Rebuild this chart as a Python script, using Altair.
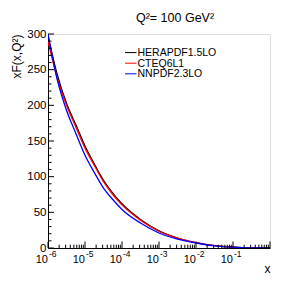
import altair as alt
import pandas as pd

series = ["HERAPDF1.5LO", "CTEQ6L1", "NNPDF2.3LO"]
colors = ["#000000", "#ff0000", "#0000ff"]
log_x = [-6, -5.75, -5.5, -5.25, -5, -4.75, -4.5, -4.25, -4, -3.5, -3, -2.5, -2, -1.5, -1, -0.5, 0]
hera = [297, 243, 203, 173, 143, 118, 95, 77, 62, 40, 24, 14, 7.5, 3.3, 1.3, 0.3, 0]
cteq = [290, 238, 200, 170, 140, 116, 93, 75, 60.5, 39, 23.5, 14, 7.5, 3.3, 1.3, 0.3, 0]
nnpdf = [300, 236, 193, 161, 130, 106, 84, 68, 54, 35, 21, 12.5, 7, 3, 1.1, 0.2, 0]

y_major = [0, 50, 100, 150, 200, 250, 300]
y_minor = [10, 20, 30, 40, 60, 70, 80, 90, 110, 120, 130, 140, 160, 170, 180, 190,
           210, 220, 230, 240, 260, 270, 280, 290]
x_decade_exp = [-6, -5, -4, -3, -2, -1, 0]
x_minor_mult = [2, 3, 4, 5, 6, 7, 8, 9]
x_label_exp = ["-6", "-5", "-4", "-3", "-2", "-1"]

FONT = "Liberation Sans"
W, H = 222, 214

rows = []
for name, vals in zip(series, [hera, cteq, nnpdf]):
    for i, (lx, v) in enumerate(zip(log_x, vals)):
        rows.append({"series": name, "x": 10 ** lx, "y": v, "i": i})
df = pd.DataFrame(rows)

xs = alt.Scale(type="log", domain=[1e-6, 1], nice=False)
ys = alt.Scale(domain=[0, 300], nice=False, zero=False)
cs = alt.Scale(domain=series, range=colors)

x_axis = alt.Axis(labels=False, ticks=False, grid=False, domain=True,
                  domainColor="black", title="x", titleFont=FONT,
                  titleFontSize=12, titleFontWeight="normal",
                  titleX=219, titleY=20, titleAlign="center", titleBaseline="middle")
y_axis = alt.Axis(values=y_major, labelOverlap=False, ticks=False,
                  grid=False, domain=True, domainColor="black", labelFont=FONT,
                  labelFontSize=11.5, labelColor="black", labelPadding=2,
                  title="xF(x,Q²)", titleFont=FONT, titleFontSize=12,
                  titleFontWeight="normal", titleAngle=270,
                  titleAlign="right", titleBaseline="middle", titleX=-32, titleY=0)

lines = alt.Chart(df).mark_line(strokeWidth=1.3, interpolate="monotone", clip=True).encode(
    x=alt.X("x:Q", scale=xs, axis=x_axis),
    y=alt.Y("y:Q", scale=ys, axis=y_axis),
    color=alt.Color("series:N", scale=cs, legend=None),
    order="i:Q",
)

ytick_major = alt.Chart(pd.DataFrame({"v": y_major})).mark_rule(color="black", strokeWidth=1).encode(
    y=alt.Y("v:Q", scale=ys, axis=y_axis), x=alt.value(0), x2=alt.value(6))
ytick_minor = alt.Chart(pd.DataFrame({"v": y_minor})).mark_rule(color="black", strokeWidth=1).encode(
    y=alt.Y("v:Q", scale=ys, axis=y_axis), x=alt.value(0), x2=alt.value(3.5))

xmaj = pd.DataFrame({"v": [10.0 ** e for e in x_decade_exp]})
xmin = pd.DataFrame({"v": [m * 10.0 ** e for e in x_decade_exp[:-1] for m in x_minor_mult]})
xtick_major = alt.Chart(xmaj).mark_rule(color="black", strokeWidth=1).encode(
    x=alt.X("v:Q", scale=xs, axis=x_axis), y=alt.value(H), y2=alt.value(H - 6.5))
xtick_minor = alt.Chart(xmin).mark_rule(color="black", strokeWidth=1).encode(
    x=alt.X("v:Q", scale=xs, axis=x_axis), y=alt.value(H), y2=alt.value(H - 3.3))

lab = pd.DataFrame({"v": [10.0 ** int(e) for e in x_label_exp], "e": x_label_exp})
lab_base = alt.Chart(lab).mark_text(font=FONT, fontSize=11, align="right", baseline="middle",
                                    color="black").encode(
    x=alt.X("v:Q", scale=xs, axis=x_axis), y=alt.value(H + 12), text=alt.value("10"))
lab_exp = alt.Chart(lab).mark_text(font=FONT, fontSize=8.5, align="left", baseline="middle",
                                   dx=1, color="black").encode(
    x=alt.X("v:Q", scale=xs, axis=x_axis), y=alt.value(H + 6), text="e:N")

leg = pd.DataFrame({"series": series, "row": [0, 1, 2]})
leg_line = alt.Chart(leg).mark_rule(strokeWidth=1).transform_calculate(
    ly="18.6 + 10.6 * datum.row").encode(
    y=alt.Y("ly:Q", scale=None), x=alt.value(77), x2=alt.value(88.5),
    color=alt.Color("series:N", scale=cs, legend=None))
leg_text = alt.Chart(leg).mark_text(font=FONT, fontSize=10.5, align="left", baseline="middle",
                                    color="black").transform_calculate(
    ly="19.1 + 10.6 * datum.row").encode(
    y=alt.Y("ly:Q", scale=None), x=alt.value(89.5), text="series:N")

chart = alt.layer(
    lines, ytick_minor, ytick_major, xtick_minor, xtick_major, lab_base, lab_exp, leg_line, leg_text
).resolve_scale(color="shared").properties(
    width=W, height=H,
    title=alt.TitleParams(text="Q²= 100 GeV²", font=FONT, fontSize=12.5, fontWeight="normal",
                          anchor="middle", dx=16, offset=4, color="black"),
    autosize="none",
    padding={"left": 40, "top": 26, "right": 25, "bottom": 31},
).configure_view(stroke="black", strokeWidth=1).configure(background="white")

chart.save("out.html", embed_options={"renderer": "svg", "actions": False})
